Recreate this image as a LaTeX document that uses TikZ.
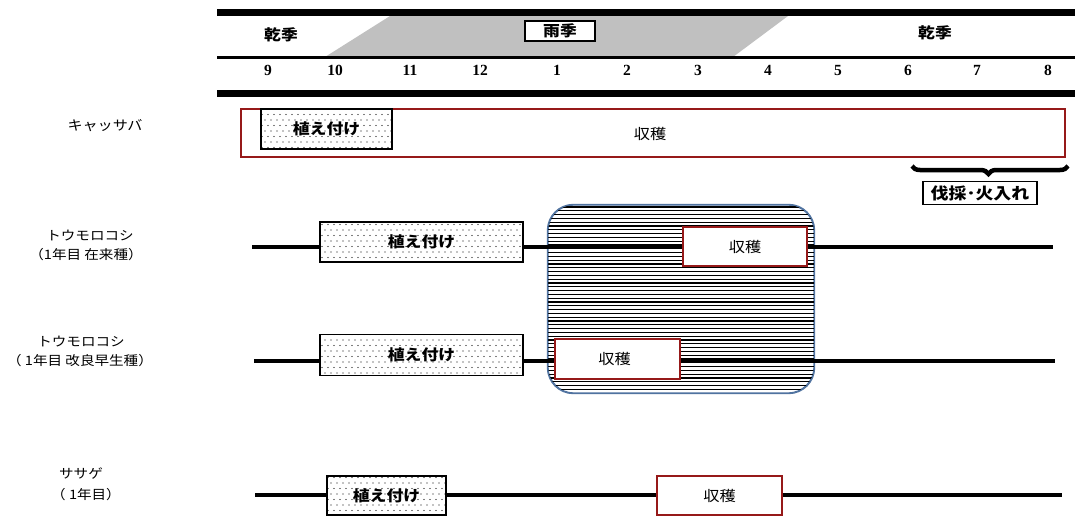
\documentclass[tikz,border=0pt]{standalone}
\usepackage{fontspec}
\setmainfont{Liberation Serif}
\newfontfamily\jp[FakeStretch=1.12]{Noto Sans CJK JP}
\usetikzlibrary{patterns,decorations.pathreplacing}
\pgfdeclarepatternformonly{sparsedots}{\pgfqpoint{-1pt}{-1pt}}{\pgfqpoint{7pt}{12pt}}{\pgfqpoint{6pt}{11pt}}{%
  \pgfpathcircle{\pgfqpoint{1pt}{1pt}}{0.6pt}\pgfpathcircle{\pgfqpoint{4pt}{6.5pt}}{0.6pt}\pgfusepath{fill}}
\definecolor{harvred}{RGB}{150,25,25}
\definecolor{rainbl}{RGB}{80,115,160}
\definecolor{raingray}{RGB}{192,192,192}
\tikzset{
  plantbox/.style={draw=black,line width=1.2pt,fill=white,postaction={pattern=sparsedots},inner sep=0pt,font=\jp\bfseries\fontsize{15}{17}\selectfont},
  harvbox/.style={draw=harvred,line width=1.4pt,fill=white,inner sep=0pt,font=\jp\fontsize{14.5}{16}\selectfont},
  rowlabel/.style={font=\jp\fontsize{13}{15}\selectfont,inner sep=0pt},
  month/.style={font=\bfseries\fontsize{15.5}{17}\selectfont,inner sep=0pt},
  season/.style={font=\jp\bfseries\fontsize{15}{17}\selectfont,inner sep=0pt},
  cropline/.style={line width=4pt},
  txt/.style={inner sep=0pt},
}
\begin{document}
\begin{tikzpicture}[x=1pt,y=-1pt]
\useasboundingbox (0,0) rectangle (1075,517);
% season header
\fill[raingray] (325,57) -- (390,16) -- (788,16) -- (733,57) -- cycle;
\fill[black] (217,9) rectangle (1075,16);
\fill[black] (217,56) rectangle (1075,59);
\fill[black] (217,90) rectangle (1075,97);
\node[season] (dry1) at (281,35) {乾季};
\node[season,draw,line width=1.2pt,fill=white,minimum width=70pt,minimum height=20pt] (rain) at (560,31) {雨季};
\node[season] (dry2) at (935,33) {乾季};
\foreach \m/\x in {9/268,10/335,11/410,12/480,1/557,2/627,3/698,4/768,5/838,6/908,7/977,8/1048}
  \node[month] (m\m) at (\x,70) {\m};
% cassava
\node[rowlabel,font=\jp\fontsize{13.5}{15}\selectfont] (lcas) at (105,126) {キャッサバ};
\node[harvbox,minimum width=824pt,minimum height=48pt] (hcas) at (653,133) {};
\node[txt,font=\jp\fontsize{14.5}{16}\selectfont] (tcas) at (650,134) {収穫};
\node[plantbox,minimum width=131pt,minimum height=40pt] (pcas) at (326.5,129) {植え付け};
\coordinate (bl) at (912,166);
\coordinate (br) at (1068,166);
\draw[line width=4.5pt,decorate,decoration={brace,amplitude=8pt,mirror,aspect=0.49}] (bl) -- (br);
\node[draw,line width=1.2pt,fill=white,inner sep=0pt,minimum width=114pt,minimum height=23pt,font=\jp\bfseries\fontsize{16}{18}\selectfont] (burn) at (980,193) {伐採･火入れ};
% maize rows
\node[rowlabel] (lc1a) at (90,236) {トウモロコシ};
\node[rowlabel] (lc1b) at (86,255) {（1年目 在来種）};
\node[rowlabel] (lc2a) at (81,342) {トウモロコシ};
\node[rowlabel] (lc2b) at (80,361) {（ 1年目 改良早生種）};
% hatched harvest period
\node[draw=rainbl,line width=1.2pt,rounded corners=26pt,fill=white,minimum width=266pt,minimum height=188pt,inner sep=0pt] (hatch) at (681,299) {};
\begin{scope}
  \clip[rounded corners=26pt] (548,205) rectangle (814,393);
  \foreach \yy in {207,210.8,...,393} \draw[line width=1.1pt] (548,\yy) -- (814,\yy);
\end{scope}
\draw[rainbl,line width=1.2pt,rounded corners=26pt] (hatch.north west) rectangle (hatch.south east);
\coordinate (c1a) at (252,247);
\coordinate (c1b) at (1053,247);
\coordinate (c2a) at (254,361);
\coordinate (c2b) at (1055,361);
\draw[cropline] (c1a) -- (c1b);
\draw[cropline] (c2a) -- (c2b);
\node[plantbox,minimum width=203pt,minimum height=40pt] (pc1) at (421.5,242) {植え付け};
\node[harvbox,minimum width=124pt,minimum height=39pt] (hc1) at (745,246.5) {収穫};
\node[plantbox,minimum width=203pt,minimum height=41pt] (pc2) at (421.5,355) {植え付け};
\node[harvbox,minimum width=125pt,minimum height=40pt] (hc2) at (617.5,359) {\hspace*{-6pt}収穫};
% cowpea
\node[rowlabel] (lsa) at (81,473) {ササゲ};
\node[rowlabel] (lsb) at (86,495) {（ 1年目）};
\coordinate (c3a) at (255,495);
\coordinate (c3b) at (1062,495);
\draw[cropline] (c3a) -- (c3b);
\node[plantbox,minimum width=119pt,minimum height=39pt] (pc3) at (386.5,495.5) {植え付け};
\node[harvbox,minimum width=125pt,minimum height=39pt] (hc3) at (719.5,495.5) {収穫};
\end{tikzpicture}
\end{document}
